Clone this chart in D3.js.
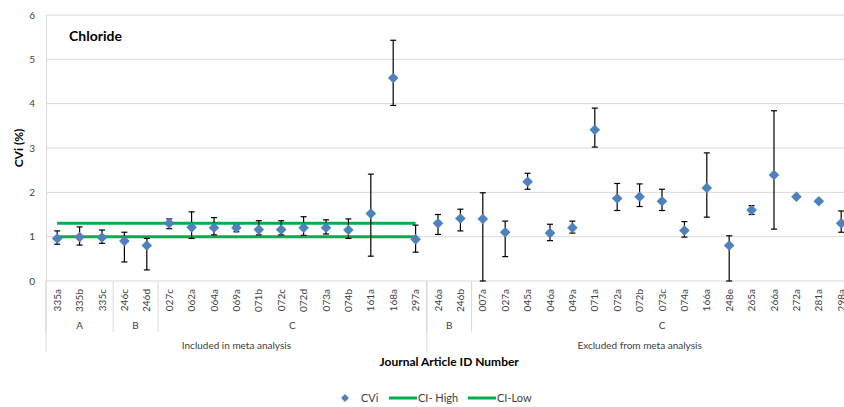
<!DOCTYPE html>
<html><head><meta charset="utf-8">
<script src="https://cdn.jsdelivr.net/npm/d3@7"></script>
<style>body{margin:0;background:#fff}svg{display:block;font-family:Lato,"Open Sans",sans-serif}</style>
</head><body><svg id="c" width="844" height="407"></svg>
<script>
const categories = ["335a","335b","335c","246c","246d","027c","062a","064a","069a","071b","072c","072d","073a","074b","161a","168a","297a",
  "246a","246b","007a","027a","045a","046a","049a","071a","072a","072b","073c","074a","166a","248e","265a","266a","272a","281a","298a"];
const level2 = [{label:"A",from:0,to:2},{label:"B",from:3,to:4},{label:"C",from:5,to:16},{label:"B",from:17,to:18},{label:"C",from:19,to:35}];
const level3 = [{label:"Included in meta analysis",from:0,to:16},{label:"Excluded from meta analysis",from:17,to:35}];
const cvi = [0.96,0.99,0.98,0.90,0.80,1.30,1.21,1.20,1.20,1.16,1.16,1.20,1.20,1.15,1.52,4.58,0.94,
  1.30,1.41,1.40,1.10,2.24,1.08,1.20,3.41,1.86,1.90,1.80,1.14,2.10,0.80,1.60,2.39,1.90,1.80,1.30];
const errHigh = [1.13,1.22,1.15,1.10,0.96,1.40,1.56,1.43,1.26,1.36,1.36,1.45,1.38,1.40,2.41,5.43,1.26,
  1.50,1.62,1.99,1.35,2.43,1.28,1.35,3.90,2.20,2.19,2.07,1.34,2.89,1.02,1.70,3.84,null,null,1.58];
const errLow = [0.83,0.81,0.85,0.43,0.25,1.18,0.96,1.04,1.11,1.04,1.04,1.03,1.06,0.96,0.56,3.96,0.65,
  1.05,1.13,0.00,0.55,2.07,0.91,1.08,3.02,1.59,1.68,1.59,0.99,1.44,0.00,1.50,1.17,null,null,1.10];
const ciHigh = 1.3, ciLow = 1.0;
const ciRange = [0,16];
const yTicks = [0,1,2,3,4,5,6];

const svg = d3.select("#c");
const L = 46, T = 15, B = 281, R = 46 + 36*22.4;
const x = d3.scaleBand().domain(d3.range(categories.length)).range([L,R]);
const y = d3.scaleLinear().domain([0,6]).range([B,T]);
const cx = i => x(i) + x.bandwidth()/2;

// gridlines
svg.append("g").selectAll("line").data(yTicks.filter(d=>d>0)).join("line")
  .attr("x1",L).attr("x2",R).attr("y1",d=>y(d)).attr("y2",d=>y(d))
  .attr("stroke","#d9d9d9").attr("stroke-width",1);
// y axis
const ya = svg.append("g").attr("transform",`translate(${L},0)`)
  .call(d3.axisLeft(y).tickValues(yTicks).tickFormat(d3.format("d")).tickSize(0).tickPadding(11));
ya.select(".domain").attr("stroke","#d9d9d9");
ya.selectAll("text").attr("font-size",10).attr("fill","#404040").attr("font-family","Lato");
// x axis line
svg.append("line").attr("x1",L).attr("x2",R).attr("y1",B).attr("y2",B).attr("stroke","#d9d9d9");
// category labels
svg.append("g").selectAll("text").data(categories).join("text")
  .attr("transform",(d,i)=>`translate(${cx(i)+3.5},289) rotate(-90)`)
  .attr("text-anchor","end").attr("font-size",10).attr("fill","#404040").text(d=>d);
// separators
const sepX = i => x(i);
level2.forEach(g=>{
  svg.append("line").attr("x1",sepX(g.from)).attr("x2",sepX(g.from)).attr("y1",B).attr("y2",332).attr("stroke","#d9d9d9");
  svg.append("text").attr("x",(sepX(g.from)+sepX(g.to)+x.bandwidth())/2).attr("y",329)
    .attr("text-anchor","middle").attr("font-size",10).attr("fill","#404040").text(g.label);
});
level3.forEach(g=>{
  svg.append("line").attr("x1",sepX(g.from)).attr("x2",sepX(g.from)).attr("y1",B).attr("y2",352).attr("stroke","#d9d9d9");
  svg.append("text").attr("x",(sepX(g.from)+sepX(g.to)+x.bandwidth())/2).attr("y",349)
    .attr("text-anchor","middle").attr("font-size",10).attr("fill","#404040").text(g.label);
});
// CI lines
[ciHigh,ciLow].forEach(v=>{
  svg.append("line").attr("x1",cx(ciRange[0])).attr("x2",cx(ciRange[1])).attr("y1",y(v)).attr("y2",y(v))
    .attr("stroke","#00B050").attr("stroke-width",3);
});
// error bars
const eg = svg.append("g").attr("stroke","#000").attr("stroke-width",1.2);
categories.forEach((c,i)=>{
  if(errHigh[i]==null) return;
  const xx = cx(i);
  eg.append("line").attr("x1",xx).attr("x2",xx).attr("y1",y(errHigh[i])).attr("y2",y(errLow[i]));
  eg.append("line").attr("x1",xx-3).attr("x2",xx+3).attr("y1",y(errHigh[i])).attr("y2",y(errHigh[i]));
  eg.append("line").attr("x1",xx-3).attr("x2",xx+3).attr("y1",y(errLow[i])).attr("y2",y(errLow[i]));
});
// points
const diamond = d3.symbol().type(d3.symbolDiamond2).size(72);
svg.append("g").selectAll("path").data(cvi).join("path")
  .attr("transform",(d,i)=>`translate(${cx(i)},${y(d)})`).attr("d",diamond).attr("fill","#4F81BD");
// titles
svg.append("text").attr("x",69).attr("y",41).attr("font-size",14).attr("font-weight","bold").attr("fill","#000").text("Chloride");
svg.append("text").attr("transform",`translate(23,${(T+B)/2}) rotate(-90)`).attr("text-anchor","middle")
  .attr("font-size",12).attr("font-weight","bold").text("CVi (%)");
svg.append("text").attr("x",(L+R)/2).attr("y",366).attr("text-anchor","middle")
  .attr("font-size",12).attr("font-weight","bold").text("Journal Article ID Number");
// legend
const lg = svg.append("g").attr("font-size",11).attr("fill","#404040");
lg.append("path").attr("transform","translate(345,398)").attr("d",d3.symbol().type(d3.symbolDiamond2).size(40)).attr("fill","#4F81BD");
lg.append("text").attr("x",361).attr("y",402).text("CVi");
lg.append("line").attr("x1",389).attr("x2",417).attr("y1",398).attr("y2",398).attr("stroke","#00B050").attr("stroke-width",3);
lg.append("text").attr("x",418).attr("y",402).text("CI- High");
lg.append("line").attr("x1",468).attr("x2",496).attr("y1",398).attr("y2",398).attr("stroke","#00B050").attr("stroke-width",3);
lg.append("text").attr("x",497).attr("y",402).text("CI-Low");
</script></body></html>
